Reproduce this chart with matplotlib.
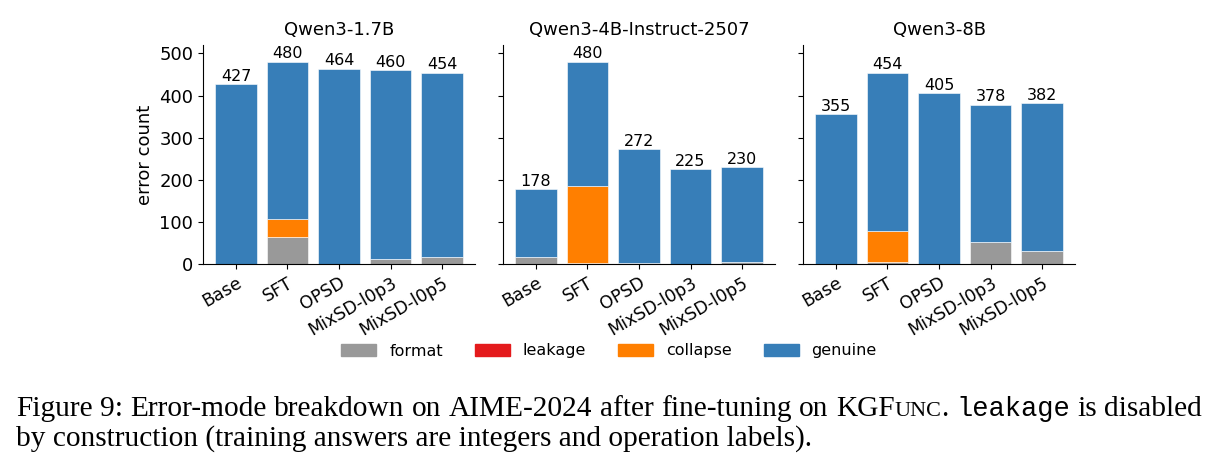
import numpy as np
import matplotlib
matplotlib.use('Agg')
import matplotlib.pyplot as plt
from matplotlib.patches import Patch

plt.rcParams['font.family'] = ['DejaVu Sans']

# data
models = ['Qwen3-1.7B', 'Qwen3-4B-Instruct-2507', 'Qwen3-8B']
methods = ['Base', 'SFT', 'OPSD', 'MixSD-l0p3', 'MixSD-l0p5']
totals = [[427, 480, 464, 460, 454],
          [178, 480, 272, 225, 230],
          [355, 454, 405, 378, 382]]
fmt_err = [[0, 65, 0, 12, 17],
           [16, 2, 3, 1, 4],
           [0, 4, 0, 52, 30]]
leak_err = [[0, 0, 0, 0, 0],
            [0, 0, 0, 0, 0],
            [0, 0, 0, 0, 0]]
collapse_err = [[0, 42, 0, 0, 0],
                [0, 184, 0, 0, 0],
                [0, 74, 0, 0, 0]]

modes = ['format', 'leakage', 'collapse', 'genuine']
colors = ['#999999', '#e41a1c', '#ff7f00', '#377eb8']

W, H = 1218, 474
fig = plt.figure(figsize=(W/100, H/100), dpi=100)
lefts = [203, 503, 803]
axes = []
for i in range(3):
    if i == 0:
        ax = fig.add_axes([lefts[i]/W, 210/H, 272/W, 219/H])
    else:
        ax = fig.add_axes([lefts[i]/W, 210/H, 272/W, 219/H], sharey=axes[0])
    axes.append(ax)

x = np.arange(len(methods))
for i, ax in enumerate(axes):
    f = np.array(fmt_err[i])
    l = np.array(leak_err[i])
    c = np.array(collapse_err[i])
    t = np.array(totals[i])
    g = t - f - l - c
    bottom = np.zeros(len(x))
    for vals, col in zip([f, l, c, g], colors):
        ax.bar(x, vals, 0.8, bottom=bottom, color=col, edgecolor='white', linewidth=0.4)
        bottom = bottom + vals
    for xi, ti in zip(x, t):
        ax.text(xi, ti + 1, str(ti), ha='center', va='bottom', fontsize=11.5)
    ax.set_title(models[i], fontsize=13, pad=7)
    ax.set_xticks(x)
    ax.set_xticklabels(methods, rotation=30, ha='right', fontsize=12.5,
                       rotation_mode='anchor')
    ax.spines['top'].set_visible(False)
    ax.spines['right'].set_visible(False)
    ax.tick_params(axis='y', labelsize=13)
    if i > 0:
        ax.tick_params(axis='y', labelleft=False)

axes[0].set_ylim(0, 520)
axes[0].set_yticks([0, 100, 200, 300, 400, 500])
axes[0].set_ylabel('error count', fontsize=13)

handles = [Patch(color=c, label=m) for m, c in zip(modes, colors)]
fig.legend(handles=handles, loc='center', bbox_to_anchor=(0.5, 1 - 351/H), ncol=4,
           frameon=False, fontsize=11.5, handlelength=2.2, columnspacing=2.0)

# caption
fig.canvas.draw()
r = fig.canvas.get_renderer()
cs = 21.2
serif = 'Liberation Serif'
mono = 'Liberation Mono'

def width(s, family, size):
    t = fig.text(0, 0, s, family=family, fontsize=size)
    w = t.get_window_extent(renderer=r).width
    t.remove()
    return w

# line 1 is justified between x=16 and x=1202
x0, x1 = 16, 1202
words = [[('Figure', serif, cs)], [('9:', serif, cs)], [('Error-mode', serif, cs)],
         [('breakdown', serif, cs)], [('on', serif, cs)], [('AIME-2024', serif, cs)],
         [('after', serif, cs)], [('fine-tuning', serif, cs)], [('on', serif, cs)],
         [('KGF', serif, cs), ('UNC', serif, cs*0.75), ('.', serif, cs)],
         [('leakage', mono, cs*0.92)], [('is', serif, cs)], [('disabled', serif, cs)]]
wl = [sum(width(s, fa, sz) for s, fa, sz in wd) for wd in words]
gap = (x1 - x0 - sum(wl)) / (len(words) - 1)
px = x0
for wd, w in zip(words, wl):
    qx = px
    for s, fa, sz in wd:
        fig.text(qx/W, 1 - 416/H, s, family=fa, fontsize=sz, va='baseline', ha='left')
        qx += width(s, fa, sz)
    px += w + gap
fig.text(x0/W, 1 - 446/H, 'by construction (training answers are integers and operation labels).',
         family=serif, fontsize=cs, va='baseline', ha='left')

fig.savefig('out.png', dpi=100)
